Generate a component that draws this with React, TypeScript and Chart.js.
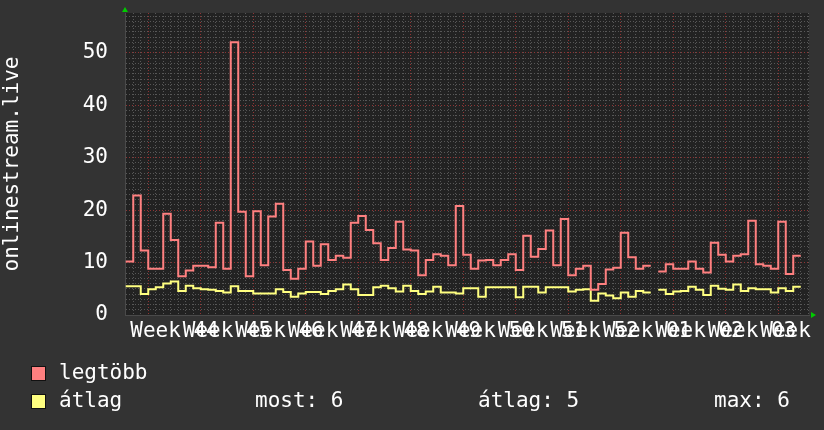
import React, { useEffect, useRef } from 'react';
import { Chart, registerables } from 'chart.js';

Chart.register(...registerables);

// Daily values (day 0 = first full day in the window); null = no data
const LEGTOBB: (number | null)[] = [
  10.2, 22.8, 12.3, 8.8, 8.8, 19.3, 14.3, 7.4, 8.5, 9.4,
  9.4, 9.1, 17.6, 8.8, 52.0, 19.7, 7.4, 19.8, 9.5, 18.8,
  21.2, 8.6, 6.9, 8.8, 14.0, 9.4, 13.5, 10.5, 11.3, 10.9,
  17.6, 18.9, 16.2, 13.7, 10.5, 12.8, 17.8, 12.5, 12.3, 7.6,
  10.5, 11.6, 11.3, 9.5, 20.8, 11.5, 8.8, 10.4, 10.5, 9.5,
  10.5, 11.6, 8.6, 15.1, 11.1, 12.6, 16.1, 9.5, 18.3, 7.6,
  8.8, 9.4, 4.8, 5.9, 8.7, 9.0, 15.7, 11.0, 8.8, 9.4,
  null, 8.3, 9.7, 8.8, 8.8, 10.2, 8.8, 8.1, 13.8, 11.5,
  10.2, 11.3, 11.6, 18.0, 9.7, 9.4, 8.8, 17.8, 7.8, 11.3,
];

const ATLAG: (number | null)[] = [
  5.5, 5.5, 4.0, 4.9, 5.3, 6.0, 6.4, 4.6, 5.6, 5.1,
  4.9, 4.8, 4.6, 4.3, 5.5, 4.6, 4.6, 4.1, 4.1, 4.1,
  4.9, 4.4, 3.5, 4.1, 4.4, 4.4, 4.0, 4.6, 4.9, 5.8,
  4.9, 3.8, 3.8, 5.3, 5.6, 5.1, 4.5, 5.6, 4.6, 4.0,
  4.5, 5.4, 4.3, 4.3, 4.1, 5.1, 5.1, 3.5, 5.3, 5.3,
  5.3, 5.3, 3.4, 5.4, 5.4, 4.3, 5.3, 5.3, 5.3, 4.5,
  4.8, 4.9, 2.7, 4.1, 3.7, 3.2, 4.3, 3.5, 4.6, 4.3,
  null, 4.8, 4.0, 4.5, 4.6, 5.4, 4.8, 3.8, 5.6, 5.0,
  4.8, 5.8, 4.6, 5.1, 4.9, 4.9, 4.3, 5.1, 4.6, 5.4,
];

const WEEK_LABELS = ['44', '45', '46', '47', '48', '49', '50', '51', '52', '01', '02', '03', '04'];
const FIRST_WEEK_DAY = 3; // day index where the first full week starts
const X_MIN = -0.1;
const X_MAX = 91.1;
const Y_MAX = 57.6;

const LEGEND_STATS = { most: '6', atlag: '5', max: '6' };

const PINK = '#ff8080';
const YELLOW = '#ffff80';
const MINOR = 'rgba(110,110,110,0.7)';
const MAJOR = 'rgba(190,60,60,0.7)';
const FONT = '"DejaVu Sans Mono", monospace';

function toSteps(values: (number | null)[]) {
  const pts: { x: number; y: number | null }[] = [];
  values.forEach((v, i) => {
    if (v === null) pts.push({ x: i + 0.5, y: null });
    else {
      pts.push({ x: i, y: v });
      pts.push({ x: i + 1, y: v });
    }
  });
  return pts;
}

const bgPlugin = {
  id: 'rrdBg',
  beforeDraw(chart: any) {
    const { ctx, chartArea } = chart;
    ctx.save();
    ctx.fillStyle = '#333333';
    ctx.fillRect(0, 0, chart.width, chart.height);
    ctx.fillStyle = '#222222';
    ctx.fillRect(chartArea.left, chartArea.top, chartArea.right - chartArea.left, chartArea.bottom - chartArea.top);
    ctx.restore();
  },
  afterDraw(chart: any) {
    const { ctx, chartArea } = chart;
    ctx.save();
    ctx.fillStyle = '#00cc00';
    ctx.beginPath();
    ctx.moveTo(chartArea.left - 3, chartArea.top - 1);
    ctx.lineTo(chartArea.left + 3, chartArea.top - 1);
    ctx.lineTo(chartArea.left, chartArea.top - 6);
    ctx.closePath();
    ctx.fill();
    ctx.beginPath();
    ctx.moveTo(chartArea.right + 2, chartArea.bottom - 3);
    ctx.lineTo(chartArea.right + 2, chartArea.bottom + 3);
    ctx.lineTo(chartArea.right + 7, chartArea.bottom);
    ctx.closePath();
    ctx.fill();
    ctx.restore();
  },
};

const zeroPad = (s: any) => {
  s.paddingTop = 0;
  s.paddingBottom = 0;
  s.paddingLeft = 0;
  s.paddingRight = 0;
};

export default function App() {
  const ref = useRef<HTMLCanvasElement>(null);

  useEffect(() => {
    const xTicks: { value: number }[] = [];
    for (let v = 0; v <= 91; v += 0.5) xTicks.push({ value: v });
    const yTicks: { value: number }[] = [];
    for (let v = 0; v <= Math.floor(Y_MAX); v += 1) yTicks.push({ value: v });

    const chart = new Chart(ref.current as HTMLCanvasElement, {
      type: 'line',
      data: {
        datasets: [
          {
            label: 'legtöbb',
            data: toSteps(LEGTOBB) as any,
            borderColor: PINK,
            borderWidth: 2,
            pointRadius: 0,
            spanGaps: false,
            tension: 0,
          },
          {
            label: 'átlag',
            data: toSteps(ATLAG) as any,
            borderColor: YELLOW,
            borderWidth: 2,
            pointRadius: 0,
            spanGaps: false,
            tension: 0,
          },
        ],
      },
      options: {
        animation: false,
        responsive: false,
        devicePixelRatio: 1,
        layout: { padding: { left: 0, right: 15, top: 13, bottom: 75 } },
        plugins: { legend: { display: false }, tooltip: { enabled: false } },
        scales: {
          x: {
            type: 'linear',
            min: X_MIN,
            max: X_MAX,
            afterBuildTicks: (s: any) => {
              s.ticks = xTicks.map((t) => ({ ...t }));
            },
            afterFit: (s: any) => {
              s.height = 40;
              zeroPad(s);
            },
            grid: {
              drawTicks: false,
              lineWidth: 1,
              color: (ctx: any) => {
                const v = ctx.tick ? ctx.tick.value : null;
                if (v === null || !Number.isInteger(v)) return 'rgba(0,0,0,0)';
                if ((v - FIRST_WEEK_DAY) % 7 === 0) return MAJOR;
                return MINOR;
              },
            },
            border: { display: true, color: '#4a4a4a', width: 1, dash: [1, 2] },
            ticks: {
              autoSkip: false,
              maxRotation: 0,
              minRotation: 0,
              padding: 4,
              color: '#ffffff',
              font: { family: FONT, size: 21 },
              callback: (value: any) => {
                const k = (Number(value) - FIRST_WEEK_DAY - 3.5) / 7;
                if (Number.isInteger(k) && k >= 0 && k < WEEK_LABELS.length) return 'Week ' + WEEK_LABELS[k];
                return '';
              },
            },
          },
          y: {
            type: 'linear',
            min: 0,
            max: Y_MAX,
            afterBuildTicks: (s: any) => {
              s.ticks = yTicks.map((t) => ({ ...t }));
            },
            afterFit: (s: any) => {
              s.width = 125;
              zeroPad(s);
            },
            grid: {
              drawTicks: false,
              lineWidth: 1,
              color: (ctx: any) => {
                const v = ctx.tick ? ctx.tick.value : null;
                if (v === null || v === 0) return 'rgba(0,0,0,0)';
                if (v % 10 === 0) return MAJOR;
                return MINOR;
              },
            },
            border: { display: true, color: '#4a4a4a', width: 1, dash: [1, 2] },
            ticks: {
              autoSkip: false,
              padding: 17,
              color: '#ffffff',
              font: { family: FONT, size: 21 },
              callback: (value: any) => (Number(value) % 10 === 0 ? String(value) : ''),
            },
            title: {
              display: true,
              text: 'onlinestream.live',
              color: '#ffffff',
              font: { family: FONT, size: 21 },
              padding: 0,
            },
          },
        },
      },
      plugins: [bgPlugin],
    } as any);
    return () => chart.destroy();
  }, []);

  const textStyle: React.CSSProperties = {
    position: 'absolute',
    color: '#ffffff',
    fontFamily: FONT,
    fontSize: 21,
    lineHeight: '24px',
    whiteSpace: 'pre',
  };
  const sq = (color: string, top: number): React.CSSProperties => ({
    position: 'absolute',
    left: 31,
    top,
    width: 13,
    height: 13,
    background: color,
    border: '1px solid #111',
  });

  return (
    <div style={{ position: 'absolute', left: 0, top: 0, width: 824, height: 430, background: '#333333', overflow: 'hidden' }}>
      <canvas ref={ref} width={824} height={430} style={{ display: 'block', width: 824, height: 430 }} />
      <div style={sq(PINK, 366)} />
      <div style={{ ...textStyle, left: 59, top: 360 }}>legtöbb</div>
      <div style={sq(YELLOW, 394)} />
      <div style={{ ...textStyle, left: 59, top: 388 }}>átlag</div>
      <div style={{ ...textStyle, left: 255, top: 388 }}>{'most: ' + LEGEND_STATS.most}</div>
      <div style={{ ...textStyle, left: 478, top: 388 }}>{'átlag: ' + LEGEND_STATS.atlag}</div>
      <div style={{ ...textStyle, left: 714, top: 388 }}>{'max: ' + LEGEND_STATS.max}</div>
    </div>
  );
}
